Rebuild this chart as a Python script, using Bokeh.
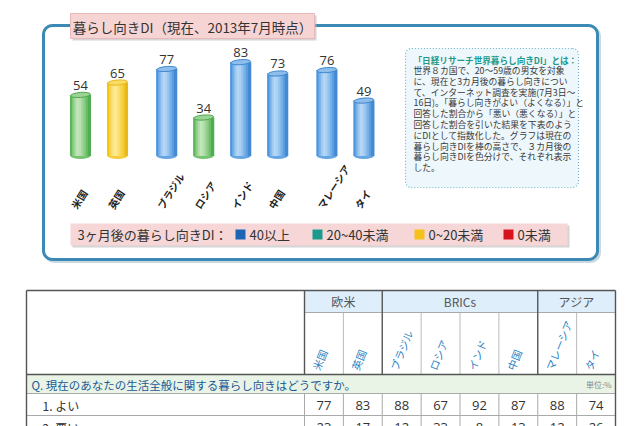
import numpy as np
from bokeh.plotting import figure
from bokeh.models import Range1d
from bokeh.embed import file_html
from bokeh.resources import INLINE
from bokeh.core.properties import value

# ---- survey data (日経リサーチ 世界暮らし向きDI, 2013年7月) ----
countries = ["米国", "英国", "ブラジル", "ロシア", "インド", "中国", "マレーシア", "タイ"]
regions = ["欧米", "欧米", "BRICs", "BRICs", "BRICs", "BRICs", "アジア", "アジア"]
region_names = ["欧米", "BRICs", "アジア"]
di_now = [54, 65, 77, 34, 83, 73, 76, 49]
di_3m_class = ["20~40未満", "0~20未満", "40以上", "20~40未満", "40以上", "40以上", "40以上", "40以上"]
legend_labels = ["40以上", "20~40未満", "0~20未満", "0未満"]
good = [77, 83, 88, 67, 92, 87, 88, 74]
bad = [23, 17, 12, 33, 8, 13, 12, 26]
row_labels = ["1. よい", "2. 悪い"]

title = "暮らし向きDI（現在、2013年7月時点）"
legend_title = "3ヶ月後の暮らし向きDI："
note_title = "「日経リサーチ世界暮らし向きDI」とは："
note_lines = [
    "世界８カ国で、20～59歳の男女を対象",
    "に、現在と3カ月後の暮らし向きについ",
    "て、インターネット調査を実施(7月3日～",
    "16日)。「暮らし向きがよい（よくなる）」と",
    "回答した割合から「悪い（悪くなる）」と",
    "回答した割合を引いた結果を下表のよう",
    "にDIとして指数化した。グラフは現在の",
    "暮らし向きDIを棒の高さで、３カ月後の",
    "暮らし向きDIを色分けで、それぞれ表示",
    "した。",
]
question = "Q. 現在のあなたの生活全般に関する暮らし向きはどうですか。"
unit_note = "単位:%"

# ---- styling ----
W, H = 640, 426
JP = value("Noto Sans CJK JP")
NUM = value("Open Sans")
TXT = "#333333"

# legend swatch colours and the cylinder palettes (base, light, dark) per class
swatch = {"40以上": "#1c64b4", "20~40未満": "#1a9b8e", "0~20未満": "#f4c21b", "0未満": "#d7141c"}
cyl = {
    "40以上": ("#4b95de", "#cfe7fb", "#2f6fb5"),
    "20~40未満": ("#5cb85a", "#dcf0d2", "#3c8f3c"),
    "0~20未満": ("#f3c41c", "#fff3b0", "#d3a30a"),
    "0未満": ("#d93030", "#f7b5b5", "#a01818"),
}


def mix(c1, c2, t):
    a = [int(c1[i:i + 2], 16) for i in (1, 3, 5)]
    b = [int(c2[i:i + 2], 16) for i in (1, 3, 5)]
    return "#%02x%02x%02x" % tuple(round(x + (y - x) * t) for x, y in zip(a, b))


def shade(pal, t):
    base, light, dark = pal
    return mix(base, light, t) if t >= 0 else mix(base, dark, -t)


def rounded(x0, y0, x1, y1, r, n=10):
    xs, ys = [], []
    for cx, cy, a0 in [(x1 - r, y0 + r, -90), (x1 - r, y1 - r, 0),
                       (x0 + r, y1 - r, 90), (x0 + r, y0 + r, 180)]:
        for a in np.linspace(a0, a0 + 90, n):
            xs.append(cx + r * np.cos(np.radians(a)))
            ys.append(cy + r * np.sin(np.radians(a)))
    return xs, ys


p = figure(width=W, height=H, x_range=Range1d(0, W), y_range=Range1d(H, 0),
           x_axis_location=None, y_axis_location=None, toolbar_location=None,
           output_backend="svg", outline_line_color=None)
p.min_border_left = p.min_border_right = p.min_border_top = p.min_border_bottom = 0
p.xgrid.visible = False
p.ygrid.visible = False
p.background_fill_color = "white"
p.border_fill_color = "white"

# bar chart scales: slot units across, DI points upward
PX_PER_SLOT, FIRST_SLOT_PX = 37.0, 80.0
BASE_PX, PX_PER_PT = 155.4, 1.129
sx0 = -FIRST_SLOT_PX / PX_PER_SLOT
p.extra_x_ranges = {"bars": Range1d(sx0, sx0 + W / PX_PER_SLOT)}
p.extra_y_ranges = {"di": Range1d(-(H - BASE_PX) / PX_PER_PT, BASE_PX / PX_PER_PT)}

GROUP_GAP = 0.33
reg_idx = [region_names.index(r) for r in regions]
slot = [i + GROUP_GAP * g for i, g in enumerate(reg_idx)]

# ---- chart frame ----
fx, fy = rounded(43, 25, 597, 259, 9)
p.patch([x + 2 for x in fx], [y + 2 for y in fy], fill_color=None,
        line_color="#a9bfcc", line_width=3, line_alpha=0.6)
p.patch(fx, fy, fill_color="white", line_color="#3b8ab6", line_width=3)

# title tab
p.quad(left=72, right=316, top=15, bottom=40, fill_color="#b9b9b9", fill_alpha=0.6, line_color=None)
p.quad(left=70, right=314, top=13, bottom=38, fill_color="#f7d4d4", line_color="#e8b8b8")
p.text(x=[192], y=[26], text=[title], text_font=JP, text_font_size="13.5px",
       text_color=TXT, text_align="center", text_baseline="middle")

# ---- cylinders ----
STRIP_T = [0.0, 0.35, 0.65, 0.8, 0.72, 0.55, 0.35, 0.12, -0.3]
BAR_W = 20 / PX_PER_SLOT
sw = BAR_W / len(STRIP_T)
sx, stop, scol = [], [], []
for s, v, c in zip(slot, di_now, di_3m_class):
    for k, t in enumerate(STRIP_T):
        sx.append(s - BAR_W / 2 + sw * (k + 0.5))
        stop.append(v)
        scol.append(shade(cyl[c], t))

pals = [cyl[c] for c in di_3m_class]
p.ellipse(x=slot, y=[0] * len(slot), width=20, height=6, width_units="screen", height_units="screen",
          fill_color=[shade(pl, 0.2) for pl in pals], line_color=None,
          x_range_name="bars", y_range_name="di")
p.vbar(x=slot, top=di_now, bottom=0, width=BAR_W, fill_color=[shade(pl, 0.4) for pl in pals],
       line_color=None, x_range_name="bars", y_range_name="di")
p.vbar(x=sx, top=stop, bottom=0, width=sw * 1.5, fill_color=scol, line_color=None,
       x_range_name="bars", y_range_name="di")
p.ellipse(x=slot, y=di_now, width=20, height=5, width_units="screen", height_units="screen",
          angle=0.08, fill_color=[shade(pl, 0.5) for pl in pals],
          line_color=[shade(pl, -0.4) for pl in pals], line_width=1,
          x_range_name="bars", y_range_name="di")

# value labels
p.text(x=slot, y=di_now, text=[str(v) for v in di_now], y_offset=-5,
       text_font=NUM, text_font_size="13px", text_color=TXT,
       text_align="center", text_baseline="bottom",
       x_range_name="bars", y_range_name="di")

# country labels under the bars
p.text(x=slot, y=[207] * len(slot), text=countries, x_offset=-7, angle=np.radians(57),
       text_font=JP, text_font_size="10px", text_font_style="bold", text_color="#1e1e1e",
       text_align="left", text_baseline="middle", x_range_name="bars")

# ---- explanatory note ----
nx, ny = rounded(405, 48, 578, 187, 6)
p.patch(nx, ny, fill_color="#eef7fb", line_color="#6bb3c9", line_width=1.2, line_dash="1 2")
p.text(x=[413], y=[59], text=[note_title], text_font=JP, text_font_size="8.6px",
       text_font_style="bold", text_color="#1d9a8a", text_baseline="middle")
p.text(x=[413] * len(note_lines), y=[70 + 10.8 * i for i in range(len(note_lines))],
       text=note_lines, text_font=JP, text_font_size="8.8px", text_color="#3a3a3a",
       text_baseline="middle")

# ---- legend strip ----
p.quad(left=72, right=569, top=225, bottom=247, fill_color="#b9b9b9", fill_alpha=0.6, line_color=None)
p.quad(left=70, right=567, top=223, bottom=245, fill_color="#f6d6d6", line_color=None)
p.text(x=[77], y=[234], text=[legend_title], text_font=JP, text_font_size="13px",
       text_color=TXT, text_baseline="middle")
LEG_X = [240, 317, 419, 508]
p.rect(x=LEG_X, y=[234] * 4, width=10, height=10, width_units="screen", height_units="screen",
       fill_color=[swatch[k] for k in legend_labels], line_color=None)
p.text(x=[x + 9 for x in LEG_X], y=[234] * 4, text=legend_labels, text_font=JP,
       text_font_size="13px", text_color=TXT, text_baseline="middle")

# ---- table ----
T_L, T_R, T_TOP, COL0 = 26, 615, 290, 304
R_GRP, R_NAME, R_Q, R_1, R_2 = 312, 374, 393, 415, 437
edges = np.linspace(COL0, T_R, len(countries) + 1)
mids = (edges[:-1] + edges[1:]) / 2

p.quad(left=COL0, right=T_R, top=T_TOP, bottom=R_GRP, fill_color="#deeefa", line_color=None)
p.quad(left=T_L, right=T_R, top=R_NAME, bottom=R_Q, fill_color="#e9f4e6", line_color=None)

# group header
bounds = []
for g in region_names:
    idx = [i for i, r in enumerate(regions) if r == g]
    bounds.append((edges[idx[0]], edges[idx[-1] + 1]))
p.text(x=[(a + b) / 2 for a, b in bounds], y=[301] * len(bounds), text=region_names,
       text_font=JP, text_font_size="12px", text_color="#555555",
       text_align="center", text_baseline="middle")

thin_x = [e for e in edges if all(abs(e - a) > 1 for a, _ in bounds) and abs(e - T_R) > 1]
p.segment(x0=thin_x, y0=[R_GRP] * len(thin_x), x1=thin_x, y1=[R_NAME] * len(thin_x),
          line_color="#bbbbbb", line_width=1)
inner = list(edges[:-1])
p.segment(x0=inner, y0=[R_Q] * len(inner), x1=inner, y1=[H + 10] * len(inner),
          line_color="#aaaaaa", line_width=1)
p.segment(x0=[COL0, T_L, T_L, T_L], y0=[R_GRP, R_Q, R_1, R_2],
          x1=[T_R] * 4, y1=[R_GRP, R_Q, R_1, R_2], line_color="#aaaaaa", line_width=1)
bx = [a for a, _ in bounds]
p.segment(x0=bx, y0=[T_TOP] * len(bx), x1=bx, y1=[R_NAME] * len(bx),
          line_color="#555555", line_width=1.4)
p.segment(x0=[T_L, T_L, T_L, T_R], y0=[T_TOP, R_NAME, T_TOP, T_TOP],
          x1=[T_R, T_R, T_L, T_R], y1=[T_TOP, R_NAME, H + 10, H + 10],
          line_color="#555555", line_width=1.4)

# rotated column names
p.text(x=list(mids), y=[369] * len(mids), text=countries, x_offset=-8, angle=np.radians(68),
       text_font=JP, text_font_size="10.5px", text_color="#2d7fc3",
       text_align="left", text_baseline="middle")

p.text(x=[31], y=[384], text=[question], text_font=JP, text_font_size="11.5px",
       text_color="#1b5a96", text_baseline="middle")
p.text(x=[611], y=[384], text=[unit_note], text_font=JP, text_font_size="8px",
       text_color="#888888", text_align="right", text_baseline="middle")

for row, vals, yc in [(row_labels[0], good, 404.5), (row_labels[1], bad, 426.5)]:
    p.text(x=[42], y=[yc], text=[row], text_font=JP, text_font_size="12px",
           text_color=TXT, text_baseline="middle")
    p.text(x=list(mids), y=[yc] * len(mids), text=[str(v) for v in vals], text_font=NUM,
           text_font_size="13px", text_color=TXT, text_align="center", text_baseline="middle")

open("out.html", "w").write(file_html(p, INLINE))
